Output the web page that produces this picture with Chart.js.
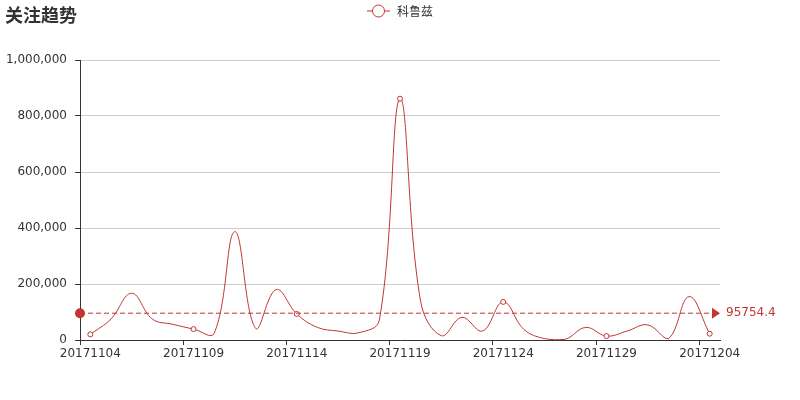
<!DOCTYPE html>
<html>
<head>
<meta charset="utf-8">
<script src="https://cdn.jsdelivr.net/npm/chart.js@4.4.0/dist/chart.umd.min.js"></script>
<style>
  html, body { margin: 0; padding: 0; background: #fff; }
  #wrap { width: 800px; height: 400px; position: relative; }
</style>
</head>
<body>
<div id="wrap"><canvas id="c" width="800" height="400"></canvas></div>
<script>
const titleText = '关注趋势';
const seriesName = '科鲁兹';
const categories = ['20171104','20171105','20171106','20171107','20171108','20171109','20171110',
  '20171111','20171112','20171113','20171114','20171115','20171116','20171117','20171118',
  '20171119','20171120','20171121','20171122','20171123','20171124','20171125','20171126',
  '20171127','20171128','20171129','20171130','20171201','20171202','20171203','20171204'];
const values = [20000, 75000, 167000, 75000, 56000, 39000, 24000,
  387000, 42000, 180000, 93000, 45000, 32000, 26000, 71000,
  861886, 137000, 15500, 81000, 32000, 136000, 38000, 5000,
  2500, 45000, 14000, 32000, 54000, 5000, 155000, 22500];
const yTicks = [0, 200000, 400000, 600000, 800000, 1000000];

const RED = '#c23531';
const TEXT = '#333';
const FONT = "'DejaVu Sans', sans-serif";
const avg = values.reduce((a, b) => a + b, 0) / values.length;

const overlay = {
  id: 'overlay',
  afterDatasetsDraw(chart) {
    const ctx = chart.ctx;
    const area = chart.chartArea;
    const y = chart.scales.y.getPixelForValue(avg);
    ctx.save();
    // mean line
    ctx.strokeStyle = RED;
    ctx.lineWidth = 1;
    ctx.setLineDash([5, 3]);
    ctx.beginPath();
    ctx.moveTo(area.left, y);
    ctx.lineTo(area.right - 8, y);
    ctx.stroke();
    ctx.setLineDash([]);
    ctx.fillStyle = RED;
    ctx.beginPath();
    ctx.arc(area.left, y, 5, 0, Math.PI * 2);
    ctx.fill();
    ctx.beginPath();
    ctx.moveTo(area.right - 8, y - 5.5);
    ctx.lineTo(area.right, y);
    ctx.lineTo(area.right - 8, y + 5.5);
    ctx.closePath();
    ctx.fill();
    ctx.font = '12px ' + FONT;
    ctx.textBaseline = 'middle';
    ctx.textAlign = 'left';
    ctx.fillText(avg.toFixed(1), area.right + 6, y);
    ctx.restore();
  },
  afterDraw(chart) {
    const ctx = chart.ctx;
    ctx.save();
    // title
    ctx.fillStyle = TEXT;
    ctx.font = "bold 18px 'Noto Sans CJK SC', sans-serif";
    ctx.textBaseline = 'middle';
    ctx.textAlign = 'left';
    ctx.fillText(titleText, 5, 15);
    // legend
    const cy = 11;
    ctx.strokeStyle = RED;
    ctx.lineWidth = 1;
    ctx.beginPath();
    ctx.moveTo(367, cy);
    ctx.lineTo(390, cy);
    ctx.stroke();
    ctx.beginPath();
    ctx.arc(378.5, cy, 6, 0, Math.PI * 2);
    ctx.fillStyle = '#fff';
    ctx.fill();
    ctx.stroke();
    ctx.fillStyle = TEXT;
    ctx.font = "12px 'Noto Sans CJK SC', sans-serif";
    ctx.fillText(seriesName, 397, cy);
    ctx.restore();
  }
};

new Chart(document.getElementById('c'), {
  type: 'line',
  data: {
    labels: categories,
    datasets: [{
      label: seriesName,
      data: values,
      borderColor: RED,
      borderWidth: 1,
      backgroundColor: RED,
      fill: false,
      tension: 0.4,
      pointRadius: ctx => (ctx.dataIndex % 5 === 0 ? 2.5 : 0),
      pointHoverRadius: 0,
      pointBackgroundColor: '#fff',
      pointBorderColor: RED,
      pointBorderWidth: 1,
      clip: false
    }]
  },
  options: {
    responsive: false,
    animation: false,
    devicePixelRatio: 1,
    layout: { padding: { top: 60, right: 80, left: 0, bottom: 0 } },
    plugins: { legend: { display: false }, title: { display: false }, tooltip: { enabled: false } },
    scales: {
      x: {
        offset: true,
        afterFit(scale) { scale.height = 60; },
        grid: {
          offset: true,
          drawOnChartArea: false,
          tickLength: 5,
          tickColor: ctx => (ctx.index % 5 === 0 ? TEXT : 'rgba(0,0,0,0)')
        },
        border: { color: TEXT, width: 1 },
        ticks: {
          autoSkip: false,
          maxRotation: 0,
          padding: 2,
          color: TEXT,
          font: { family: FONT, size: 12 },
          callback(v, i) { return i % 5 === 0 ? categories[i] : ''; }
        }
      },
      y: {
        min: yTicks[0],
        max: yTicks[yTicks.length - 1],
        afterFit(scale) { scale.width = 80; },
        afterBuildTicks(scale) { scale.ticks = yTicks.map(v => ({ value: v })); },
        grid: { color: '#ccc', tickColor: TEXT, tickLength: 5 },
        border: { color: TEXT, width: 1 },
        ticks: {
          padding: 8,
          color: TEXT,
          font: { family: FONT, size: 12 },
          callback(v) { return v.toLocaleString('en-US'); }
        }
      }
    }
  },
  plugins: [overlay]
});
</script>
</body>
</html>
